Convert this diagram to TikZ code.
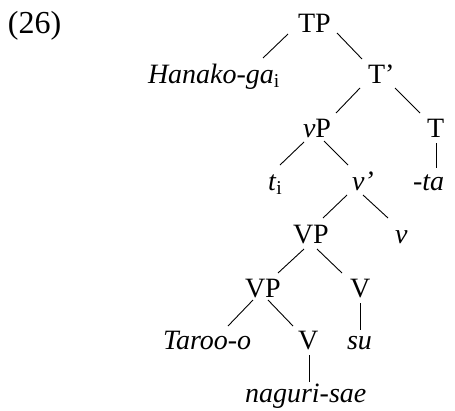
\documentclass[tikz,border=0pt]{standalone}
\usepackage{fontspec}
\setmainfont{Liberation Serif}
\usetikzlibrary{calc}
\tikzset{
  lbl/.style={anchor=base west, inner sep=0pt, outer sep=0pt, font=\fontsize{28}{32}\selectfont},
  exno/.style={lbl, font=\fontsize{32}{36}\selectfont},
  branch/.style={line width=0.9pt, line cap=butt}
}
\newcommand{\lx}[1]{\textsubscript{\upshape #1}}
\begin{document}
\begin{tikzpicture}[x=1pt, y=-1pt]
\useasboundingbox (0,0) rectangle (455,410);

% example number
\node[exno] (num) at (8,33) {(26)};

% labels of the tree, placed by left end of baseline
\node[lbl] (TP)   at (298,32)  {TP};
\node[lbl] (han)  at (148,83)  {\itshape Hanako-ga\lx{i}};
\node[lbl] (Tb)   at (368,83)  {T’};
\node[lbl] (vP)   at (303,137) {\textit{v}P};
\node[lbl] (T)    at (427,137) {T};
\node[lbl] (ti)   at (268,190) {\textit{t}\lx{i}};
\node[lbl] (vb)   at (352,190) {\textit{v’}};
\node[lbl] (ta)   at (413,190) {\itshape -ta};
\node[lbl] (VPa)  at (293,243) {VP};
\node[lbl] (v)    at (395,243) {\textit{v}};
\node[lbl] (VPb)  at (245,297) {VP};
\node[lbl] (Va)   at (350,297) {V};
\node[lbl] (tar)  at (163,349) {\itshape Taroo-o};
\node[lbl] (Vb)   at (298,349) {V};
\node[lbl] (su)   at (347,349) {\itshape su};
\node[lbl] (nag)  at (245,402) {\itshape naguri-sae};

% branch end points, set off from each label's baseline
\coordinate (TP-l)  at ($(TP.base west)+(-10,2)$);
\coordinate (TP-r)  at ($(TP.base west)+(39,1)$);
\coordinate (han-t) at ($(han.base west)+(115,-25)$);
\coordinate (Tb-t)  at ($(Tb.base west)+(-6,-24)$);
\coordinate (Tb-l)  at ($(Tb.base west)+(-8,5)$);
\coordinate (Tb-r)  at ($(Tb.base west)+(27,5)$);
\coordinate (vP-t)  at ($(vP.base west)+(33,-24)$);
\coordinate (vP-l)  at ($(vP.base west)+(1,5)$);
\coordinate (vP-r)  at ($(vP.base west)+(21,4)$);
\coordinate (T-t)   at ($(T.base west)+(-7,-24)$);
\coordinate (T-b)   at ($(T.base west)+(9,6)$);
\coordinate (ti-t)  at ($(ti.base west)+(12,-25)$);
\coordinate (vb-t)  at ($(vb.base west)+(-4,-25)$);
\coordinate (vb-l)  at ($(vb.base west)+(-5,5)$);
\coordinate (vb-r)  at ($(vb.base west)+(11,5)$);
\coordinate (ta-t)  at ($(ta.base west)+(23,-22)$);
\coordinate (VPa-t) at ($(VPa.base west)+(30,-25)$);
\coordinate (VPa-l) at ($(VPa.base west)+(11,6)$);
\coordinate (VPa-r) at ($(VPa.base west)+(24,6)$);
\coordinate (v-t)   at ($(v.base west)+(-7,-25)$);
\coordinate (VPb-t) at ($(VPb.base west)+(33,-24)$);
\coordinate (VPb-l) at ($(VPb.base west)+(8,3)$);
\coordinate (VPb-r) at ($(VPb.base west)+(23,3)$);
\coordinate (Va-t)  at ($(Va.base west)+(-8,-24)$);
\coordinate (Va-b)  at ($(Va.base west)+(10,6)$);
\coordinate (tar-t) at ($(tar.base west)+(65,-23)$);
\coordinate (Vb-t)  at ($(Vb.base west)+(-5,-23)$);
\coordinate (Vb-b)  at ($(Vb.base west)+(11,6)$);
\coordinate (su-t)  at ($(su.base west)+(13,-19)$);
\coordinate (nag-t) at ($(nag.base west)+(64,-20)$);

% branches
\draw[branch] (TP-l) -- (han-t);
\draw[branch] (TP-r) -- (Tb-t);
\draw[branch] (Tb-l) -- (vP-t);
\draw[branch] (Tb-r) -- (T-t);
\draw[branch] (vP-l) -- (ti-t);
\draw[branch] (vP-r) -- (vb-t);
\draw[branch] (T-b) -- (ta-t);
\draw[branch] (vb-l) -- (VPa-t);
\draw[branch] (vb-r) -- (v-t);
\draw[branch] (VPa-l) -- (VPb-t);
\draw[branch] (VPa-r) -- (Va-t);
\draw[branch] (VPb-l) -- (tar-t);
\draw[branch] (VPb-r) -- (Vb-t);
\draw[branch] (Va-b) -- (su-t);
\draw[branch] (Vb-b) -- (nag-t);
\end{tikzpicture}
\end{document}
